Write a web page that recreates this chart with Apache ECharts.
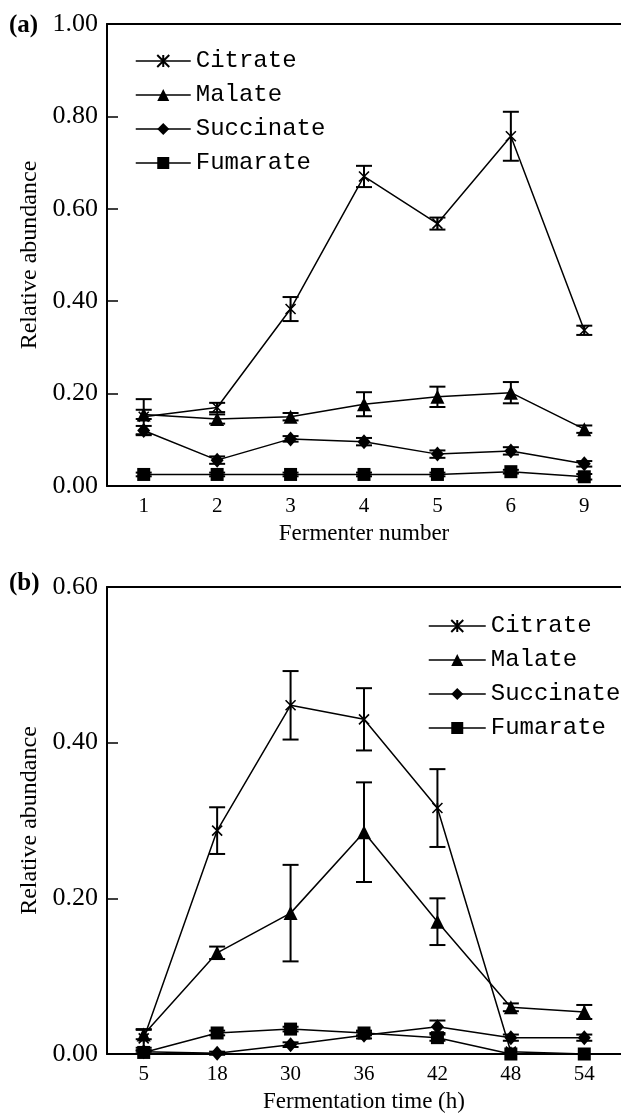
<!DOCTYPE html>
<html><head><meta charset="utf-8">
<script src="https://cdn.jsdelivr.net/npm/echarts@6/dist/echarts.min.js"></script>
<style>html,body{margin:0;padding:0;background:#fff}#c{width:621px;height:1116px}</style>
</head><body><div id="c"></div>
<script>
// ---- Panel (a): Fermenter number ----
const catsA = ['1','2','3','4','5','6','9'];
const citrateA      = [0.150,0.170,0.383,0.670,0.568,0.757,0.337];
const citrateErrA   = [0.038,0.010,0.026,0.023,0.013,0.053,0.010];
const malateA       = [0.155,0.145,0.150,0.177,0.193,0.202,0.123];
const malateErrA    = [0.010,0.010,0.008,0.026,0.022,0.023,0.008];
const succinateA    = [0.120,0.056,0.102,0.096,0.069,0.076,0.048];
const succinateErrA = [0.010,0.008,0.006,0.008,0.008,0.008,0.006];
const fumarateA     = [0.025,0.025,0.025,0.025,0.025,0.031,0.020];
const fumarateErrA  = [0.004,0.004,0.004,0.004,0.004,0.004,0.006];
// ---- Panel (b): Fermentation time (h) ----
const catsB = ['5','18','30','36','42','48','54'];
const citrateB      = [0.020,0.287,0.448,0.430,0.316,0.003,0.000];
const citrateErrB   = [0.012,0.030,0.044,0.040,0.050,0.000,0.000];
const malateB       = [0.025,0.130,0.181,0.285,0.170,0.060,0.054];
const malateErrB    = [0.006,0.008,0.062,0.064,0.030,0.005,0.009];
const succinateB    = [0.003,0.001,0.012,0.024,0.035,0.021,0.021];
const succinateErrB = [0.002,0.002,0.003,0.004,0.008,0.004,0.004];
const fumarateB     = [0.002,0.027,0.032,0.027,0.021,0.000,0.000];
const fumarateErrB  = [0.002,0.003,0.003,0.003,0.004,0.000,0.000];

const names = ['Citrate','Malate','Succinate','Fumarate'];
const symbols = {
  Citrate: {symbol:'path://M0,0L10,10M10,0L0,10M5,0L5,10', size:10},
  Malate: {symbol:'triangle', size:14},
  Succinate: {symbol:'diamond', size:[13,15]},
  Fumarate: {symbol:'rect', size:13}
};

const serif = 'Liberation Serif';
const mono = 'Liberation Mono';

function lineSeries(name, data, gi){
  const s = symbols[name];
  return {
    type:'line', name, data, xAxisIndex: gi*2, yAxisIndex: gi,
    symbol: s.symbol, symbolSize: s.size, showSymbol:true,
    lineStyle:{color:'#000', width:1.5},
    itemStyle:{color:'#000', borderColor:'#000', borderWidth: name==='Citrate'?1.6:0},
    emphasis:{disabled:true}, z:3, animation:false
  };
}
function errSeries(vals, errs, gi){
  const data = [];
  vals.forEach((v,i)=>{ if(errs[i]>0) data.push([i, v-errs[i], v+errs[i]]); });
  return {
    type:'custom', xAxisIndex: gi*2, yAxisIndex: gi, data, z:4, animation:false,
    encode:{x:0, y:[1,2]},
    renderItem(params, api){
      const x = api.value(0);
      const p1 = api.coord([x, api.value(2)]), p2 = api.coord([x, api.value(1)]);
      const hw = 8, st = {stroke:'#000', lineWidth:2};
      return {type:'group', children:[
        {type:'line', shape:{x1:p1[0],y1:p1[1],x2:p2[0],y2:p2[1]}, style:st},
        {type:'line', shape:{x1:p1[0]-hw,y1:p1[1],x2:p1[0]+hw,y2:p1[1]}, style:st},
        {type:'line', shape:{x1:p2[0]-hw,y1:p2[1],x2:p2[0]+hw,y2:p2[1]}, style:st}
      ]};
    }
  };
}

function xAxes(cats, title, gi){
  return [{
    type:'category', data:cats, gridIndex:gi, boundaryGap:true,
    axisLine:{lineStyle:{color:'#000', width:2}},
    axisTick:{inside:true, length:10, lineStyle:{color:'#000', width:1.5}},
    axisLabel:{color:'#000', fontFamily:serif, fontSize:21, margin:10},
    name:title, nameLocation:'middle', nameGap:36,
    nameTextStyle:{color:'#000', fontFamily:serif, fontSize:23}
  },{
    type:'category', data:cats, gridIndex:gi, position:'top',
    axisLine:{lineStyle:{color:'#000', width:2}},
    axisTick:{show:false}, axisLabel:{show:false}
  }];
}
function yAxis(max, gi){
  return {
    type:'value', gridIndex:gi, min:0, max, interval:0.2,
    axisLine:{show:true, lineStyle:{color:'#000', width:2}},
    axisTick:{show:true, inside:true, length:11, lineStyle:{color:'#000', width:1.5}},
    splitLine:{show:false},
    axisLabel:{color:'#000', fontFamily:serif, fontSize:26, margin:9, formatter:v=>v.toFixed(2)},
    name:'Relative abundance', nameLocation:'middle', nameGap:62,
    nameTextStyle:{color:'#000', fontFamily:serif, fontSize:24}
  };
}
function legend(left, top, w, gap){
  return {
    data:names, orient:'vertical', left, top, padding:0,
    itemWidth:w, itemHeight:15, itemGap:10, itemTextGap:gap,
    itemStyle:{color:'#000', borderColor:'#000'},
    lineStyle:{color:'#000', width:1.5},
    textStyle:{color:'#000', fontFamily:mono, fontSize:24, lineHeight:18},
    selectedMode:false
  };
}

const series = [];
[[citrateA,citrateErrA,'Citrate'],[malateA,malateErrA,'Malate'],[succinateA,succinateErrA,'Succinate'],[fumarateA,fumarateErrA,'Fumarate']]
  .forEach(([v,e,n])=>{ series.push(lineSeries(n,v,0)); series.push(errSeries(v,e,0)); });
[[citrateB,citrateErrB,'Citrate'],[malateB,malateErrB,'Malate'],[succinateB,succinateErrB,'Succinate'],[fumarateB,fumarateErrB,'Fumarate']]
  .forEach(([v,e,n])=>{ series.push(lineSeries(n,v,1)); series.push(errSeries(v,e,1)); });

const chart = echarts.init(document.getElementById('c'), null, {renderer:'canvas'});
chart.setOption({
  backgroundColor:'#fff',
  animation:false,
  grid:[
    {left:107, top:24, right:-11, bottom:630},
    {left:107, top:587, right:-11, bottom:62}
  ],
  xAxis:[...xAxes(catsA,'Fermenter number',0), ...xAxes(catsB,'Fermentation time (h)',1)],
  yAxis:[yAxis(1.0,0), yAxis(0.6,1)],
  legend:[legend(135,49,55,7), legend(428,614,57,7)],
  graphic:[
    {type:'text', left:9, top:13, style:{text:'(a)', font:'bold 25px "Liberation Serif"', fill:'#000'}},
    {type:'text', left:9, top:571, style:{text:'(b)', font:'bold 25px "Liberation Serif"', fill:'#000'}}
  ],
  series
});
</script></body></html>
